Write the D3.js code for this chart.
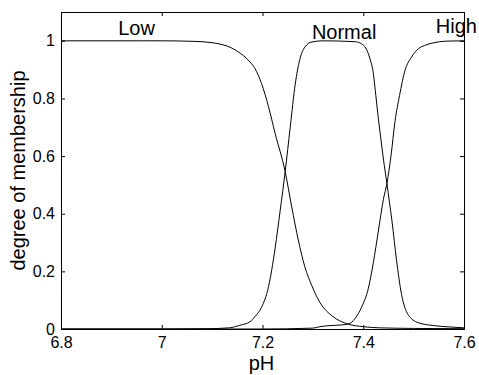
<!DOCTYPE html>
<html>
<head>
<meta charset="utf-8">
<script src="https://cdn.jsdelivr.net/npm/d3@7"></script>
<style>
  body { margin: 0; background: #fff; }
  svg { display: block; font-family: "Liberation Sans", Arial, sans-serif; }
</style>
</head>
<body>
<div id="chart"></div>
<script>
const width = 479;
const height = 375;
const margin = {top: 12, right: 15, bottom: 46, left: 61};

// membership functions: [pH, degree]
const lowPts = [
  [6.8, 1], [7.0, 1], [7.066, 0.998], [7.102, 0.993], [7.149, 0.965], [7.175, 0.927],
  [7.185, 0.904], [7.198, 0.852], [7.212, 0.771], [7.225, 0.679], [7.245, 0.546],
  [7.258, 0.424], [7.271, 0.309], [7.284, 0.216], [7.298, 0.15], [7.314, 0.092],
  [7.340, 0.043], [7.370, 0.017], [7.400, 0.008], [7.433, 0.004], [7.5, 0.002], [7.6, 0.001]
];
const normalPts = [
  [6.8, 0], [7.0, 0], [7.09, 0.001], [7.134, 0.004], [7.155, 0.013], [7.175, 0.025],
  [7.185, 0.043], [7.198, 0.075], [7.212, 0.147], [7.225, 0.28], [7.235, 0.41],
  [7.245, 0.546], [7.255, 0.70], [7.265, 0.85], [7.274, 0.935], [7.284, 0.978],
  [7.298, 0.996], [7.32, 1], [7.384, 0.997], [7.396, 0.99], [7.405, 0.975],
  [7.413, 0.94], [7.420, 0.887], [7.425, 0.81], [7.430, 0.73], [7.435, 0.66],
  [7.440, 0.59], [7.447, 0.505], [7.452, 0.44], [7.457, 0.375], [7.466, 0.24],
  [7.476, 0.12], [7.489, 0.05], [7.509, 0.022], [7.539, 0.012], [7.572, 0.007], [7.6, 0.004]
];
const highPts = [
  [6.8, 0], [7.2, 0], [7.3, 0.003], [7.314, 0.008], [7.370, 0.017], [7.384, 0.037],
  [7.397, 0.077], [7.41, 0.14], [7.42, 0.23], [7.43, 0.34], [7.44, 0.45], [7.447, 0.505],
  [7.455, 0.6], [7.463, 0.72], [7.472, 0.81], [7.483, 0.898], [7.496, 0.944],
  [7.509, 0.972], [7.522, 0.984], [7.539, 0.993], [7.552, 0.997], [7.566, 0.999], [7.6, 1]
];
const mfNames = ['Low', 'Normal', 'High'];
const xTicks = [6.8, 7, 7.2, 7.4, 7.6];
const yTicks = [0, 0.2, 0.4, 0.6, 0.8, 1];

// where the names sit (pH, degree)
const namePos = [[6.95, 1.02], [7.362, 1.008], [7.585, 1.026]];

const svg = d3.select('#chart')
    .append('svg')
    .attr('width', width)
    .attr('height', height);

const x = d3.scaleLinear().domain([6.8, 7.6]).range([margin.left, width - margin.right]);
const y = d3.scaleLinear().domain([0, 1.1]).range([height - margin.bottom, margin.top]);

const fmt = d => String(d);

// axes, ticks pointing inward
svg.append('g')
    .attr('transform', `translate(0,${y(0)})`)
    .call(d3.axisBottom(x).tickValues(xTicks).tickFormat(fmt).tickSize(-4).tickPadding(8));
svg.append('g')
    .attr('transform', `translate(0,${y(1.1)})`)
    .call(d3.axisTop(x).tickValues(xTicks).tickFormat('').tickSize(-4));
svg.append('g')
    .attr('transform', `translate(${x(6.8)},0)`)
    .call(d3.axisLeft(y).tickValues(yTicks).tickFormat(fmt).tickSize(-4).tickPadding(6));
svg.append('g')
    .attr('transform', `translate(${x(7.6)},0)`)
    .call(d3.axisRight(y).tickValues(yTicks).tickFormat('').tickSize(-4));

svg.selectAll('.tick text')
    .attr('font-size', 16)
    .attr('font-family', '"Liberation Sans", Arial, sans-serif')
    .attr('fill', '#000');
svg.selectAll('.domain, .tick line').attr('stroke', '#000');

const line = d3.line()
    .x(d => x(d[0]))
    .y(d => y(d[1]))
    .curve(d3.curveMonotoneX);

svg.selectAll('.mf')
    .data([lowPts, normalPts, highPts])
    .enter().append('path')
    .attr('class', 'mf')
    .attr('d', line)
    .attr('fill', 'none')
    .attr('stroke', '#000')
    .attr('stroke-width', 1);

svg.selectAll('.mfname')
    .data(mfNames)
    .enter().append('text')
    .attr('class', 'mfname')
    .attr('x', (d, i) => x(namePos[i][0]))
    .attr('y', (d, i) => y(namePos[i][1]))
    .attr('text-anchor', 'middle')
    .attr('font-size', 20)
    .text(d => d);

// axis titles
svg.append('text')
    .attr('x', (x(6.8) + x(7.6)) / 2 - 1)
    .attr('y', 370)
    .attr('text-anchor', 'middle')
    .attr('font-size', 20)
    .text('pH');

svg.append('text')
    .attr('transform', `translate(25,${(y(0) + y(1.1)) / 2}) rotate(-90)`)
    .attr('text-anchor', 'middle')
    .attr('font-size', 20)
    .text('degree of membership');
</script>
</body>
</html>
